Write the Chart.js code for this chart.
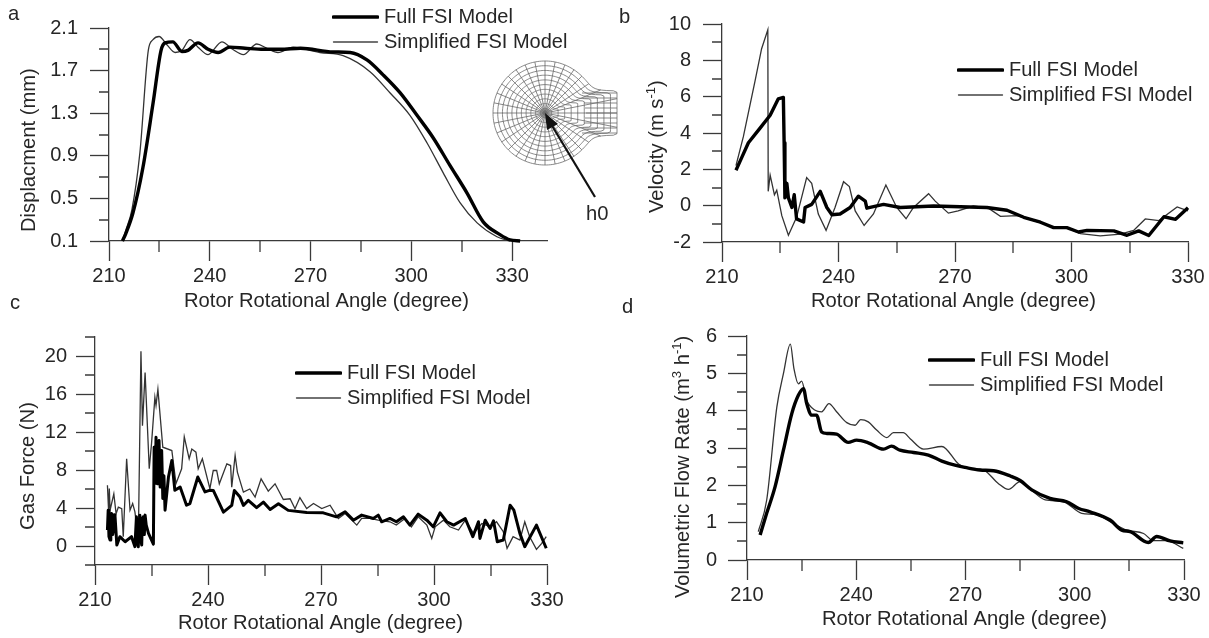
<!DOCTYPE html>
<html>
<head>
<meta charset="utf-8">
<title>FSI model comparison</title>
<script src="https://cdn.jsdelivr.net/npm/chart.js@4"></script>
<style>
  html, body { margin: 0; background: #fff; overflow: hidden; }
  canvas { position: absolute; left: 0; top: 0; }
</style>
</head>
<body>
<canvas id="chartA" width="1209" height="638"></canvas>
<canvas id="chartB" width="1209" height="638"></canvas>
<canvas id="chartC" width="1209" height="638"></canvas>
<canvas id="chartD" width="1209" height="638"></canvas>
<script>
const seriesNames = ['Full FSI Model', 'Simplified FSI Model'];

const xMajor = [210, 240, 270, 300, 330];
const xMinor = [225, 255, 285, 315];

// panel a - displacement
const aFullX = [214, 215, 217.1, 220.1, 223.1, 225.5, 226.7, 229, 231.7, 233.5, 236.5, 239.5, 242.5, 246, 250.5, 256, 261, 267, 276.7, 281.8, 286.8, 291.6, 296.7, 301.7, 306.5, 311.5, 316.6, 321.4, 326.4, 329.4, 332.4];
const aFullY = [0.1, 0.17, 0.36, 0.79, 1.39, 1.89, 1.96, 1.97, 1.88, 1.89, 1.96, 1.9, 1.87, 1.92, 1.91, 1.9, 1.9, 1.91, 1.875, 1.87, 1.8, 1.66, 1.49, 1.28, 1.07, 0.81, 0.55, 0.28, 0.16, 0.11, 0.1];
const aSimpX = [214, 215, 216.8, 219.2, 221.7, 223.1, 224.9, 227.3, 229.7, 231.7, 234.1, 236.5, 239.5, 243.6, 246.8, 250, 254, 257, 260.3, 264.8, 267, 272.8, 279.7, 287.7, 293.7, 299.6, 304.7, 309.5, 314.5, 319.6, 325.5, 329.4];
const aSimpY = [0.1, 0.2, 0.39, 0.93, 1.89, 1.99, 2.02, 1.94, 1.87, 1.89, 1.99, 1.92, 1.85, 1.97, 1.9, 1.85, 1.95, 1.91, 1.87, 1.92, 1.91, 1.87, 1.84, 1.69, 1.49, 1.28, 1.02, 0.74, 0.46, 0.27, 0.14, 0.1];

// panel b - velocity
const bFullX = [213.6, 215.1, 216.8, 219.8, 222.4, 224.5, 225.8, 226, 226.2, 226.7, 227.1, 228, 228.6, 229.2, 231, 231.4, 233.1, 235.3, 237, 238.3, 240.4, 243, 245.1, 246.9, 247.3, 251.6, 255.9, 264.5, 278.2, 283.4, 287.7, 292, 295.4, 298.8, 301.8, 304, 310.9, 314.3, 317.3, 319.9, 323.8, 326.8, 330];
const bFullY = [1.95, 2.66, 3.46, 4.27, 4.98, 5.88, 5.96, 3.46, 0.43, 1.23, 0.43, -0.1, 0.6, -0.73, -0.9, -0.1, 0.07, 0.79, -0.1, -0.5, -0.46, -0.1, 0.52, 0.25, -0.14, 0.07, -0.1, -0.02, -0.1, -0.25, -0.64, -0.91, -1.21, -1.21, -1.45, -1.36, -1.39, -1.63, -1.39, -1.64, -0.61, -0.75, -0.11];
const bSimpX = [213.6, 215.5, 218.5, 220.2, 221.8, 221.9, 222.4, 223.5, 224.1, 225.4, 227.1, 229.2, 231.8, 233.1, 234.8, 236.8, 239.1, 241.3, 242.8, 244.3, 246.6, 249, 252.2, 255, 257.4, 259.3, 263.2, 264.9, 268.3, 270.8, 274.7, 278.6, 281.7, 286, 290.3, 295.4, 298.8, 302.3, 307.4, 312.6, 316, 319, 322.5, 327.2, 330];
const bSimpY = [2.2, 3.8, 6.86, 8.64, 9.68, 0.79, 1.68, 0.6, 0.85, -0.55, -1.63, -0.64, 1.54, 1.23, -0.46, -1.36, -0.1, 1.32, 1.05, -0.29, -1.09, -0.46, 1.14, -0.1, -0.72, -0.1, 0.66, 0.25, -0.41, -0.29, -0.02, -0.14, -0.59, -0.55, -0.82, -1.18, -1.21, -1.54, -1.66, -1.57, -1.36, -0.73, -0.82, -0.07, -0.29];

// panel c - gas force
const cFullX = [213.3, 213.5, 213.7, 214, 214.2, 214.4, 214.7, 214.9, 215.1, 215.3, 215.8, 216.6, 218, 219.7, 220.6, 221, 221.2, 221.5, 221.7, 221.9, 222.2, 222.4, 222.6, 222.8, 223.1, 223.3, 223.6, 224.2, 225.5, 225.7, 226, 226.2, 226.5, 226.7, 227, 227.3, 227.5, 227.7, 228, 228.3, 228.6, 229.5, 230.4, 231.2, 232.6, 234.3, 235.2, 237.3, 239.2, 240.4, 241.4, 244.1, 246.3, 247, 248.5, 249.4, 250.7, 252.9, 254.7, 256.5, 258.7, 261.3, 266.2, 270.6, 274.1, 276.4, 278.6, 280.8, 283.9, 285.2, 286.1, 288.3, 290, 291.9, 293.6, 295.8, 298.1, 299.8, 301.6, 303.4, 305.2, 308.3, 310.3, 311.8, 312.2, 313.6, 314.9, 315.8, 316.8, 318.4, 320.2, 321.2, 322.8, 324.1, 327.2, 329.8];
const cFullY = [1.68, 3.77, 1, 0.63, 2.9, 3.42, 1.2, 1.68, 3.3, 3.25, 0.1, 0.98, 0.45, 0.98, -0.07, 3.07, 0.5, -0.07, 2.8, 3.25, 0.6, 0.1, 2.9, 3.07, 1.2, 3.25, 2.2, 1.33, 0.2, 10.4, 6.6, 11.45, 6.56, 10.5, 11.1, 6.2, 9.5, 10.05, 5, 7.4, 3.77, 7.26, 9, 5.86, 6.2, 4.3, 4.47, 7.26, 5.69, 5.86, 5.85, 3.57, 4.27, 5.85, 5.15, 4.27, 4.8, 4.03, 4.62, 3.85, 4.45, 3.75, 3.53, 3.49, 3.07, 3.6, 2.72, 3.25, 2.9, 3.25, 2.55, 2.9, 2.55, 3.07, 2.2, 3.35, 2.72, 2.02, 3.49, 2.55, 2.2, 2.9, 0.98, 2.55, 0.8, 2.72, 1.85, 2.65, 0.45, 0.63, 4.29, 3.77, 1.33, -0.07, 2.2, -0.24];
const cSimpX = [213.3, 213.6, 213.8, 214, 215, 215.6, 216.2, 217.1, 217.5, 218.4, 219.3, 220, 220.6, 221.5, 222.2, 222.6, 223.3, 224.4, 225, 225.9, 226.2, 226.7, 228, 230.4, 231.5, 233, 233.7, 235, 235.7, 236.8, 237.4, 238.5, 240.5, 241.4, 242.3, 243, 245, 246, 246.3, 247.2, 247.8, 249.4, 251.1, 252.5, 254.1, 256, 257.8, 260, 261.8, 263.1, 264.4, 266.2, 268, 270.2, 272.4, 274.6, 276.4, 279.5, 280.8, 283, 285.2, 288.3, 290, 292.3, 294, 295.8, 298.1, 299.4, 300.3, 302.5, 304.2, 306.5, 308.3, 310.5, 312.7, 314.9, 316.6, 318.4, 319.4, 321, 322.8, 324.1, 325.4, 327.2, 328.6, 329.8];
const cSimpY = [6.39, 3.77, 6.04, 3.77, 5.5, 3.4, 4.1, 3.94, 0.98, 9.18, 3.77, 4.47, 3.6, 0.63, 20.5, 12.67, 18.25, 8.13, 10.75, 15.64, 14.8, 16.5, 10.4, 10.05, 6.56, 8.13, 11.5, 9.18, 10.2, 9.88, 8.13, 9.18, 6.04, 7.95, 7.95, 6.55, 8.65, 8.47, 6.2, 9.53, 7.78, 5.67, 6, 5.15, 7.07, 5.78, 6.55, 4.9, 4.97, 3.92, 5.1, 3.94, 4.47, 3.94, 4.29, 2.9, 3.42, 2.2, 2.9, 2.9, 2.72, 2.55, 2.2, 2.9, 2.02, 3.07, 2.2, 0.8, 2.02, 2.72, 2.02, 1.68, 2.72, 1.33, 2.37, 2.02, 2.55, 1.5, -0.24, 0.98, 0.63, 2.55, 0.98, -0.35, 0.28, 0.98];

// panel d - volumetric flow rate
const dFullX = [213.6, 215.4, 217.7, 220, 222.3, 224.1, 225.5, 226.4, 227.8, 229.1, 230.5, 231.9, 234.6, 237.8, 240.1, 243.3, 247.5, 249.7, 252, 255.7, 259.8, 263.5, 267.1, 269.9, 274, 277.7, 282.3, 285, 288.2, 293.2, 297.8, 301.1, 304.2, 309.7, 312.9, 315.2, 320.2, 322.5, 326.2, 329.8];
const dFullY = [0.67, 1.25, 1.96, 2.94, 3.92, 4.41, 4.59, 4.19, 3.88, 3.88, 3.43, 3.39, 3.37, 3.15, 3.21, 3.14, 2.97, 3.05, 2.94, 2.88, 2.81, 2.65, 2.54, 2.48, 2.41, 2.39, 2.25, 2.13, 1.88, 1.65, 1.56, 1.38, 1.29, 1.07, 0.8, 0.76, 0.47, 0.63, 0.51, 0.46];
const dSimpX = [213.1, 215.4, 218.2, 220, 221.9, 222.9, 224.1, 225, 226.4, 228.7, 230.5, 232.5, 234.6, 237.4, 239.7, 241.2, 243.3, 245.6, 248.4, 250.2, 252.9, 254.8, 258.5, 263.5, 268.1, 269.9, 275, 279, 281.8, 285, 288.2, 291.9, 296.9, 301.9, 306, 310.6, 314.3, 318.9, 321.6, 325.2, 329.8];
const dSimpY = [0.76, 1.6, 4.1, 4.99, 5.78, 5.12, 4.72, 4.79, 4.28, 4.01, 3.97, 4.19, 3.97, 3.68, 3.61, 3.76, 3.7, 3.48, 3.28, 3.41, 3.41, 3.25, 2.97, 3.04, 2.57, 2.48, 2.41, 2.05, 1.89, 2.1, 1.86, 1.61, 1.56, 1.25, 1.21, 0.98, 0.8, 0.71, 0.52, 0.52, 0.31];

// y axis ticks of each panel
const aYMajor = [0.1, 0.5, 0.9, 1.3, 1.7, 2.1];
const aYMinor = [0.3, 0.7, 1.1, 1.5, 1.9];
const bYMajor = [-2, 0, 2, 4, 6, 8, 10];
const bYMinor = [-1, 1, 3, 5, 7, 9];
const cYMajor = [0, 4, 8, 12, 16, 20];
const cYMinor = [-2, 2, 6, 10, 14, 18, 22];
const dYMajor = [0, 1, 2, 3, 4, 5, 6];
const dYMinor = [0.5, 1.5, 2.5, 3.5, 4.5, 5.5];

const PAGE_W = 1209;
const PAGE_H = 638;
const FONT = '"Liberation Sans", Arial, sans-serif';
const INK = '#262626';
const AXIS = '#3a3a3a';

const zip = (xs, ys) => xs.map((x, i) => ({ x, y: ys[i] }));

// little line picture for the legend, so its length and the gap to the text can be set
function lineSample(width, color) {
  const c = document.createElement('canvas');
  c.width = 47;
  c.height = 8;
  const g = c.getContext('2d');
  g.strokeStyle = color;
  g.lineWidth = width;
  g.lineCap = 'round';
  g.beginPath();
  g.moveTo(1.5, 4);
  g.lineTo(45.5, 4);
  g.stroke();
  return c;
}

// text made of runs so the superscripts stay real text
function drawRuns(ctx, runs, x, y, rotated) {
  ctx.save();
  ctx.translate(x, y);
  if (rotated) ctx.rotate(-Math.PI / 2);
  ctx.fillStyle = INK;
  ctx.textAlign = 'left';
  ctx.textBaseline = 'alphabetic';
  let cursor = 0;
  runs.forEach(run => {
    ctx.font = (run.sup ? '13px ' : '20.2px ') + FONT;
    ctx.fillText(run.t, cursor, run.sup ? -8 : 0);
    cursor += ctx.measureText(run.t).width;
  });
  ctx.restore();
}

function drawMesh(ctx) {
  const cx = 545, cy = 113;
  const boundary = deg => {
    const d = Math.abs(deg);
    if (d > 90) return 52;
    const a = d * Math.PI / 180;
    if (a < 0.001) return 72;
    const flare = Math.pow(Math.pow(52, 8) + Math.pow(22 / Math.sin(a), 8), 1 / 8);
    return Math.min(72 / Math.cos(a), flare);
  };
  const at = (f, deg) => {
    const r = f * boundary(deg > 180 ? deg - 360 : deg);
    return [cx + r * Math.cos(deg * Math.PI / 180), cy + r * Math.sin(deg * Math.PI / 180)];
  };
  ctx.save();
  ctx.strokeStyle = '#6a6a6a';
  ctx.lineWidth = 0.8;
  for (let k = 1; k <= 11; k++) {
    ctx.beginPath();
    for (let d = 0; d <= 360; d += 2) {
      const p = at(k / 11, d);
      if (d === 0) ctx.moveTo(p[0], p[1]);
      else ctx.lineTo(p[0], p[1]);
    }
    ctx.closePath();
    ctx.stroke();
  }
  for (let d = 0; d < 360; d += 11.25) {
    const p = at(1, d);
    ctx.beginPath();
    ctx.moveTo(cx, cy);
    ctx.lineTo(p[0], p[1]);
    ctx.stroke();
  }
  // straight neck on the right side
  for (let i = -4; i <= 4; i++) {
    ctx.beginPath();
    ctx.moveTo(586 - Math.abs(i), cy + i * 5);
    ctx.lineTo(617, cy + i * 5);
    ctx.stroke();
  }
  // arrow to h0
  ctx.strokeStyle = '#111';
  ctx.fillStyle = '#111';
  ctx.lineWidth = 2.2;
  ctx.beginPath();
  ctx.moveTo(595, 197);
  ctx.lineTo(551, 124);
  ctx.stroke();
  ctx.beginPath();
  ctx.moveTo(545, 113);
  ctx.lineTo(558, 124);
  ctx.lineTo(547, 130);
  ctx.closePath();
  ctx.fill();
  ctx.restore();
}

function makePanel(p) {
  // shorter tick marks for the unlabelled ticks, through the scales
  const decorate = {
    id: 'decorate',
    afterLayout(chart) {
      const legend = chart.legend;
      const h = legend.height, w = legend.width;
      legend.left = p.legendX;
      legend.top = p.legendY;
      legend.right = p.legendX + w;
      legend.bottom = p.legendY + h + 40;
      legend.adjustHitBoxes();
    },
    beforeDraw(chart) {
      if (p.inset) p.inset(chart.ctx);
    },
    afterDraw(chart) {
      const ctx = chart.ctx;
      const { x, y } = chart.scales;
      ctx.save();
      ctx.strokeStyle = AXIS;
      ctx.lineWidth = 1.3;
      ctx.beginPath();
      x.ticks.filter(t => !t.major).forEach(t => {
        const px = Math.round(x.getPixelForValue(t.value));
        ctx.moveTo(px, y.bottom);
        ctx.lineTo(px, y.bottom + 11);
      });
      y.ticks.filter(t => !t.major).forEach(t => {
        const py = Math.round(y.getPixelForValue(t.value));
        ctx.moveTo(x.left, py);
        ctx.lineTo(x.left - 10, py);
      });
      ctx.stroke();
      ctx.restore();
      drawRuns(ctx, [{ t: p.letter }], p.letterX, p.letterY, false);
      drawRuns(ctx, [{ t: 'Rotor Rotational Angle (degree)' }], p.xTitleX, p.xTitleY, false);
      drawRuns(ctx, p.yTitle, p.yTitleX, p.yTitleY, true);
      (p.notes || []).forEach(n => drawRuns(ctx, [{ t: n.t }], n.x, n.y, false));
    }
  };

  const ticksFrom = (major, minor) => scale => {
    scale.ticks = major.map(value => ({ value, major: true }))
      .concat(minor.map(value => ({ value, major: false })))
      .sort((a, b) => a.value - b.value);
  };
  const tickFont = { family: FONT, size: 20 };

  return new Chart(document.getElementById(p.id), {
    type: 'line',
    data: {
      datasets: [
        {
          label: seriesNames[0],
          data: zip(p.fullX, p.fullY),
          borderColor: '#000',
          borderWidth: p.fullWidth,
          pointRadius: 0,
          pointStyle: lineSample(3.6, '#000'),
          cubicInterpolationMode: p.smooth ? 'monotone' : 'default',
          borderJoinStyle: 'round',
          clip: false
        },
        {
          label: seriesNames[1],
          data: zip(p.simpX, p.simpY),
          borderColor: '#333',
          borderWidth: 1.3,
          pointRadius: 0,
          pointStyle: lineSample(1.3, '#444'),
          cubicInterpolationMode: p.smooth ? 'monotone' : 'default',
          clip: false
        }
      ]
    },
    options: {
      responsive: false,
      animation: false,
      events: [],
      layout: { padding: { top: p.top, right: PAGE_W - p.right, left: 0, bottom: 0 } },
      plugins: {
        title: { display: false },
        tooltip: { enabled: false },
        legend: {
          position: 'chartArea',
          align: 'start',
          labels: {
            usePointStyle: true,
            pointStyleWidth: 37,
            padding: 5,
            color: INK,
            font: { family: FONT, size: 20 }
          }
        }
      },
      scales: {
        x: {
          type: 'linear',
          min: 210,
          max: p.xMax,
          afterBuildTicks: ticksFrom(xMajor, xMinor),
          afterFit: s => { s.height = PAGE_H - p.bottom; },
          border: { color: AXIS, width: 1.3 },
          grid: {
            drawOnChartArea: false,
            tickLength: 20,
            tickWidth: 1.3,
            tickColor: c => (c.tick && c.tick.major ? AXIS : 'transparent')
          },
          ticks: {
            autoSkip: false,
            maxRotation: 0,
            minRotation: 0,
            padding: 3,
            color: INK,
            font: tickFont,
            callback: v => (xMajor.includes(v) ? String(v) : '')
          }
        },
        y: {
          type: 'linear',
          min: p.yMin,
          max: p.yMax,
          afterBuildTicks: ticksFrom(p.yMajor, p.yMinor),
          afterFit: s => { s.width = p.left; },
          border: { color: AXIS, width: 1.3 },
          grid: {
            drawOnChartArea: false,
            tickLength: 19,
            tickWidth: 1.3,
            tickColor: c => (c.tick && c.tick.major ? AXIS : 'transparent')
          },
          ticks: {
            autoSkip: false,
            padding: p.yPad,
            color: INK,
            font: tickFont,
            callback: v => (p.yMajor.includes(v) ? (p.yFixed ? v.toFixed(1) : String(v)) : '')
          }
        }
      }
    },
    plugins: [decorate]
  });
}

var chartA = makePanel({
  id: 'chartA', letter: 'a', letterX: 8, letterY: 20,
  left: 109, right: 547, top: 28, bottom: 241, xMax: 340.4,
  yMin: 0.1, yMax: 2.1, yMajor: aYMajor, yMinor: aYMinor, yFixed: true, yPad: 12,
  fullX: aFullX, fullY: aFullY, simpX: aSimpX, simpY: aSimpY, fullWidth: 3.4, smooth: true,
  xTitleX: 184, xTitleY: 307,
  yTitle: [{ t: 'Displacment (mm)' }], yTitleX: 35, yTitleY: 232,
  legendX: 332, legendY: 2,
  inset: drawMesh, notes: [{ t: 'h0', x: 586, y: 220 }]
});

var chartB = makePanel({
  id: 'chartB', letter: 'b', letterX: 619, letterY: 23,
  left: 722, right: 1188, top: 18, bottom: 242, xMax: 330,
  yMin: -2, yMax: 10, yMajor: bYMajor, yMinor: bYMinor, yPad: 12,
  fullX: bFullX, fullY: bFullY, simpX: bSimpX, simpY: bSimpY, fullWidth: 3.4,
  xTitleX: 811, xTitleY: 307,
  yTitle: [{ t: 'Velocity (m s' }, { t: '-1', sup: true }, { t: ')' }], yTitleX: 663, yTitleY: 213,
  legendX: 957, legendY: 55
});

var chartC = makePanel({
  id: 'chartC', letter: 'c', letterX: 10, letterY: 309,
  left: 95, right: 547, top: 337, bottom: 565, xMax: 330,
  yMin: -2, yMax: 22, yMajor: cYMajor, yMinor: cYMinor, yPad: 9,
  fullX: cFullX, fullY: cFullY, simpX: cSimpX, simpY: cSimpY, fullWidth: 3,
  xTitleX: 178, xTitleY: 629,
  yTitle: [{ t: 'Gas Force (N)' }], yTitleX: 34, yTitleY: 530,
  legendX: 295, legendY: 358
});

var chartD = makePanel({
  id: 'chartD', letter: 'd', letterX: 622, letterY: 313,
  left: 747, right: 1184, top: 336, bottom: 560, xMax: 330,
  yMin: 0, yMax: 6, yMajor: dYMajor, yMinor: dYMinor, yPad: 11,
  fullX: dFullX, fullY: dFullY, simpX: dSimpX, simpY: dSimpY, fullWidth: 3.4, smooth: true,
  xTitleX: 822, xTitleY: 625,
  yTitle: [{ t: 'Volumetric Flow Rate (m' }, { t: '3', sup: true }, { t: ' h' }, { t: '-1', sup: true }, { t: ')' }], yTitleX: 689, yTitleY: 598,
  legendX: 928, legendY: 345
});
</script>
</body>
</html>
